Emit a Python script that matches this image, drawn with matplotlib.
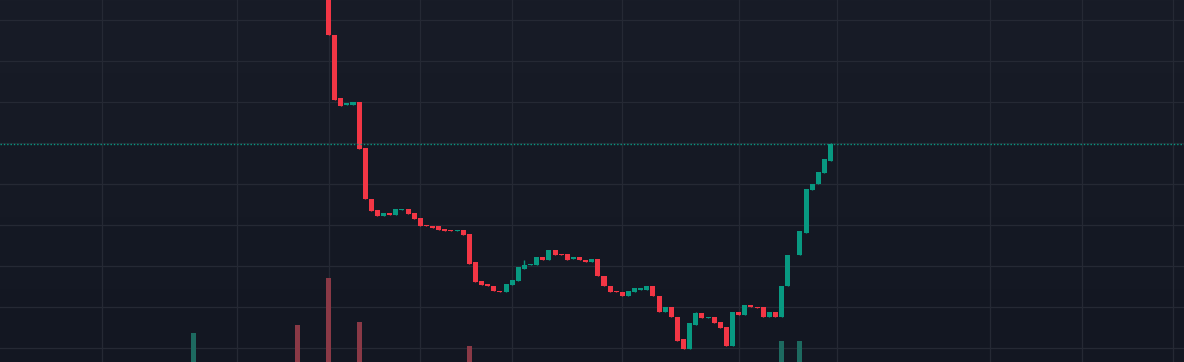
import numpy as np
import matplotlib
matplotlib.use("Agg")
import matplotlib.pyplot as plt
from matplotlib.colors import LinearSegmentedColormap

# candle data (bar index starts at -22, the first 22 bars sit above the visible range)
first_index = -22
opens = [5.60, 5.75, 5.80, 5.78, 5.85, 5.90, 5.88, 5.95, 6.00, 6.05, 6.02,
         6.10, 6.12, 6.08, 6.15, 6.20, 6.18, 6.22, 5.90, 5.92, 5.85, 5.88,
         5.720, 4.817, 4.037, 3.963, 3.963, 4.000, 3.427, 2.817, 2.671, 2.598,
         2.646, 2.610, 2.671, 2.683, 2.646, 2.585, 2.488, 2.476, 2.476, 2.451,
         2.427, 2.415, 2.439, 2.390, 2.037, 1.805, 1.780, 1.756, 1.695, 1.671,
         1.768, 1.817, 1.963, 2.012, 2.012, 2.098, 2.061, 2.183, 2.146, 2.146,
         2.085, 2.098, 2.073, 2.037, 2.085, 1.878, 1.756, 1.683, 1.671, 1.634,
         1.671, 1.707, 1.707, 1.756, 1.634, 1.439, 1.488, 1.378, 1.098, 0.976,
         1.280, 1.415, 1.354, 1.378, 1.305, 1.244, 1.024, 1.439, 1.402, 1.524,
         1.500, 1.488, 1.378, 1.427, 1.378, 1.744, 2.122, 2.122, 2.402, 2.915,
         2.988, 3.134, 3.280]
closes = [5.75, 5.80, 5.78, 5.85, 5.90, 5.88, 5.95, 6.00, 6.05, 6.02, 6.10,
          6.12, 6.08, 6.15, 6.20, 6.18, 6.22, 5.90, 5.92, 5.85, 5.88, 5.72,
          4.805, 4.024, 3.951, 3.976, 4.000, 3.415, 2.805, 2.659, 2.598, 2.646,
          2.610, 2.683, 2.683, 2.634, 2.573, 2.476, 2.476, 2.463, 2.439, 2.415,
          2.415, 2.439, 2.378, 2.024, 1.793, 1.768, 1.744, 1.683, 1.671, 1.780,
          1.829, 1.976, 2.012, 2.024, 2.098, 2.061, 2.183, 2.134, 2.134, 2.073,
          2.098, 2.061, 2.037, 2.085, 1.866, 1.744, 1.671, 1.671, 1.634, 1.683,
          1.720, 1.720, 1.756, 1.622, 1.439, 1.488, 1.366, 1.085, 0.976, 1.293,
          1.415, 1.354, 1.378, 1.293, 1.232, 1.024, 1.439, 1.402, 1.524, 1.488,
          1.476, 1.378, 1.427, 1.378, 1.756, 2.134, 2.134, 2.415, 2.927, 3.000,
          3.146, 3.293, 3.476]
upper_wicks = {32: 2.061, 60: 1.439, 82: 3.488}
volumes = {-22: 290000, -5: 370000, 0: 840000, 5: 400000, 23: 160000,
           74: 210000, 77: 210000}

price_grid = [1.0, 1.5, 2.0, 2.5, 3.0, 3.5, 4.0, 4.5, 5.0]
time_grid = [-37, -15, 0, 15, 30, 48, 67, 83, 108, 123, 138]

UP = "#089981"
DOWN = "#f23645"
UP_VOL = "#1d6a60"
DOWN_VOL = "#8a3946"
GRID = "#252934"

x = np.arange(first_index, first_index + len(opens))
o = np.array(opens)
c = np.array(closes)
hi = np.maximum(o, c)
lo = np.minimum(o, c)
for i, h in upper_wicks.items():
    hi[i - first_index] = h
up = c >= o
colors = np.where(up, UP, DOWN)
vol = np.array([volumes.get(i, 0) for i in x])

fig = plt.figure(figsize=(11.84, 3.62), dpi=100)
ax = fig.add_axes([0, 0, 1, 1])

# background gradient
cmap = LinearSegmentedColormap.from_list("bg", ["#181c27", "#131722"])
ax.imshow(np.linspace(0, 1, 256).reshape(-1, 1), cmap=cmap, aspect="auto",
          extent=[0, 1, 0, 1], transform=ax.transAxes, zorder=-5)

for p in price_grid:
    ax.axhline(p, color=GRID, lw=0.9, zorder=0)
for t in time_grid:
    ax.axvline(t, color=GRID, lw=0.9, zorder=0)

# volume pane, bottom of the chart
vol_top = 3.62e6
ax.bar(x, vol / vol_top, width=0.82, bottom=0,
       color=np.where(up, UP_VOL, DOWN_VOL), transform=ax.get_xaxis_transform(),
       zorder=1)

# candles: wicks then bodies (min body height ~1px)
body = c - o
body = np.where(up, np.maximum(body, 0.011), np.minimum(body, -0.011))
ax.vlines(x, lo, hi, colors=colors, lw=1.0, zorder=2)
ax.bar(x, body, bottom=o, width=0.82, color=colors, zorder=3)

# last price line (dotted)
ax.axhline(c[-1], color=UP, lw=1.0, linestyle=(0, (1.0, 1.4)), zorder=4)

ax.set_xlim(-53.66, 139.74)
ax.set_ylim(5.0 - (362 - 19.5) / 82, 5.0 + 19.5 / 82)
ax.axis("off")

fig.savefig("out.png", dpi=100)
